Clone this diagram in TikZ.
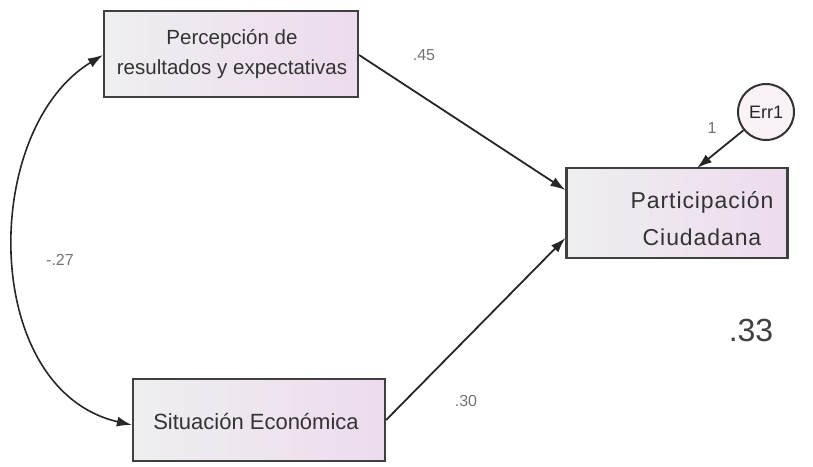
\documentclass[tikz,border=0pt]{standalone}
\usepackage{fontspec}
\setmainfont{Liberation Sans}
\usetikzlibrary{arrows.meta}
\begin{document}
\begin{tikzpicture}[x=1pt,y=-1pt,
  varbox/.style={draw=black!75, line width=2.2pt, left color=blue!6!gray!12, right color=violet!14!white, shading angle=90, inner sep=0pt, align=center, text=black!80},
  path/.style={line width=1.8pt, black!85, -{Latex[length=15pt,width=10pt]}},
  coef/.style={text=black!55, font=\fontsize{16}{18}\selectfont}]
\useasboundingbox (0,0) rectangle (813,466);
\node[varbox, minimum width=254pt, minimum height=86pt] (perc) at (231,54) {};
\node[align=center, text=black!80, font=\fontsize{20.5}{30}\selectfont] (perct) at (232,54) {Percepción de\\resultados y expectativas};
\node[varbox, minimum width=221pt, minimum height=90pt] (part) at (677,213) {};
\node[align=center, text=black!80, font=\addfontfeatures{LetterSpace=4}\fontsize{23}{37}\selectfont] (partt) at (702,219) {Participación\\Ciudadana};
\node[varbox, minimum width=252pt, minimum height=82pt] (sit) at (259,420) {};
\node[text=black!80, font=\fontsize{22}{26}\selectfont] (sitt) at (256,421) {Situación Económica};
\node[draw=black!80, line width=2pt, circle, minimum size=56pt, inner sep=0pt, fill=violet!5!white, font=\fontsize{18}{20}\selectfont, text=black!85] (err) at (766,112) {Err1};
\coordinate (ein) at (697,168);
\draw[path] (err) -- (ein);
\node[coef] (l1) at (712,128) {1};
\draw[path] (perc.east |- 0,55) -- (part.west |- 0,190);
\draw[path] (sit.east |- 0,420) -- (part.west |- 0,238);
\draw[line width=1.6pt, black!85, {Latex[length=15pt,width=10pt]}-{Latex[length=15pt,width=10pt]}] (perc.west |- 0,55) .. controls (-20,130) and (-20,390) .. (sit.west |- 0,425);
\node[coef] (c45) at (424,55) {.45};
\node[coef] (c30) at (466,401) {.30};
\node[coef] (c27) at (60,260) {-.27};
\node[text=black!75, font=\fontsize{32}{34}\selectfont] (r2) at (751,330) {.33};
\end{tikzpicture}
\end{document}
